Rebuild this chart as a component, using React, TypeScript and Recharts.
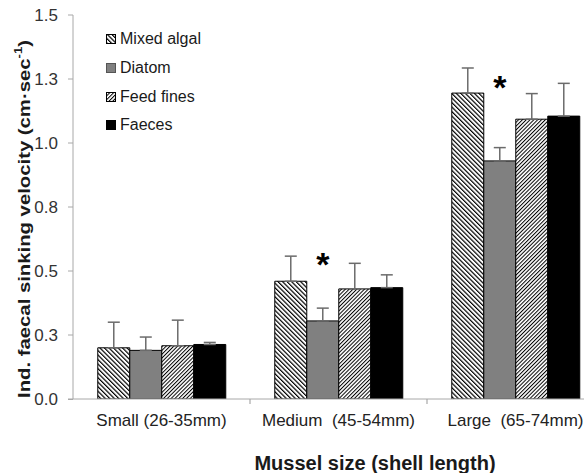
import { Bar, BarChart, ErrorBar, LabelList, Legend, XAxis, YAxis } from "recharts"

const categories = ["Small (26-35mm)", "Medium\u00a0 (45-54mm)", "Large\u00a0 (65-74mm)"]

const seriesNames = ["Mixed algal", "Diatom", "Feed fines", "Faeces"]

const mixedAlgal = [0.2, 0.46, 1.195]
const diatom = [0.19, 0.305, 0.93]
const feedFines = [0.208, 0.43, 1.093]
const faeces = [0.213, 0.435, 1.105]

const mixedAlgalErr = [0.1, 0.098, 0.098]
const diatomErr = [0.052, 0.05, 0.052]
const feedFinesErr = [0.1, 0.1, 0.1]
const faecesErr = [0.008, 0.05, 0.128]

// significance marks above the diatom bars
const marks = ["", "*", "*"]
const markAt = [0, 0.545, 1.24]

const yTicks = [0, 0.25, 0.5, 0.75, 1, 1.25, 1.5]
const yTickLabels = ["0.0", "0.3", "0.5", "0.8", "1.0", "1.3", "1.5"]

const data = categories.map((name, i) => ({
  name,
  mixed: mixedAlgal[i],
  diatom: diatom[i],
  feed: feedFines[i],
  faeces: faeces[i],
  mixedErr: [0, mixedAlgalErr[i]],
  diatomErr: [0, diatomErr[i]],
  feedErr: [0, feedFinesErr[i]],
  faecesErr: [0, faecesErr[i]],
  mark: marks[i],
}))

const font = "'Liberation Sans', Arial, sans-serif"
const axisGray = "#a8a8a8"
const errGray = "#6b6b6b"
const TICK_MARGIN = 15

function Patterns() {
  return (
    <svg width={0} height={0} style={{ position: "absolute" }}>
      <defs>
        <pattern id="mixedPat" patternUnits="userSpaceOnUse" width={3.2} height={3.2} patternTransform="rotate(-45)">
          <rect width={3.2} height={3.2} fill="#fff" />
          <line x1={0.6} y1={0} x2={0.6} y2={3.2} stroke="#000" strokeWidth={1.2} />
        </pattern>
        <pattern id="feedPat" patternUnits="userSpaceOnUse" width={2.7} height={2.7} patternTransform="rotate(45)">
          <rect width={2.7} height={2.7} fill="#fff" />
          <line x1={0.5} y1={0} x2={0.5} y2={2.7} stroke="#000" strokeWidth={1} />
        </pattern>
      </defs>
    </svg>
  )
}

function LegendBox(props: any) {
  const items = [...(props.payload || [])].sort(
    (a: any, b: any) => seriesNames.indexOf(a.value) - seriesNames.indexOf(b.value)
  )
  return (
    <div style={{ fontFamily: font, fontSize: 16, color: "#1a1a1a" }}>
      {items.map((p: any) => (
        <div key={p.value} style={{ display: "flex", alignItems: "center", height: 28.7 }}>
          <svg width={10} height={10} style={{ marginRight: 4 }}>
            <rect x={0.5} y={0.5} width={9} height={9} fill={p.color} stroke={p.value === "Diatom" ? "#555" : "#000"} />
          </svg>
          <span>{p.value}</span>
        </div>
      ))}
    </div>
  )
}

function CategoryTick(props: any) {
  const { x, y, payload, width, visibleTicksCount } = props
  const half = payload.offset || (width && visibleTicksCount ? width / visibleTicksCount / 2 : 0)
  const edge = x + half
  const axisY = y - TICK_MARGIN
  return (
    <g>
      <line x1={edge} y1={axisY} x2={edge} y2={axisY + 5} stroke={axisGray} strokeWidth={1.2} />
      <text x={x} y={y} dy="0.71em" textAnchor="middle" fontFamily={font} fontSize={17} fill="#222">
        {payload.value}
      </text>
    </g>
  )
}

function Star(props: any) {
  const { x, y, width, height, value, index } = props
  if (!value) return null
  const perUnit = height / diatom[index]
  const cy = y + height - markAt[index] * perUnit
  return (
    <text x={x + width / 2} y={cy + 17} textAnchor="middle" fontFamily={font} fontSize={34} fontWeight="bold" fill="#000">
      {value}
    </text>
  )
}

export default function App() {
  return (
    <div style={{ position: "absolute", left: 0, top: 0, width: 584, height: 473, overflow: "hidden", background: "#fff" }}>
      <Patterns />
      <BarChart
        width={612}
        height={473}
        data={data}
        margin={{ top: 15, right: 8, bottom: 0, left: 0 }}
        barCategoryGap="14%"
        barGap={0}
      >
        <XAxis
          dataKey="name"
          height={74}
          tickLine={false}
          tickSize={0}
          tickMargin={TICK_MARGIN}
          axisLine={{ stroke: axisGray }}
          tick={<CategoryTick />}
          interval={0}
        />
        <YAxis
          width={73}
          domain={[0, 1.5]}
          ticks={yTicks}
          tickFormatter={(v: number) => yTickLabels[yTicks.indexOf(v)]}
          tickSize={5}
          tickMargin={10}
          axisLine={{ stroke: axisGray }}
          tickLine={{ stroke: axisGray }}
          tick={{ fontSize: 17, fill: "#333", fontFamily: font }}
          allowDataOverflow
        />
        <Legend
          layout="vertical"
          align="center"
          verticalAlign="middle"
          wrapperStyle={{ left: 106, top: 25, width: 140, height: 120 }}
          content={<LegendBox />}
        />
        <Bar dataKey="mixed" name="Mixed algal" fill="url(#mixedPat)" stroke="#000" strokeWidth={1} isAnimationActive={false}>
          <ErrorBar dataKey="mixedErr" width={6} stroke={errGray} strokeWidth={1.5} />
        </Bar>
        <Bar dataKey="diatom" name="Diatom" fill="#808080" stroke="#000" strokeWidth={1} isAnimationActive={false}>
          <ErrorBar dataKey="diatomErr" width={6} stroke={errGray} strokeWidth={1.5} />
          <LabelList dataKey="mark" content={<Star />} />
        </Bar>
        <Bar dataKey="feed" name="Feed fines" fill="url(#feedPat)" stroke="#000" strokeWidth={1} isAnimationActive={false}>
          <ErrorBar dataKey="feedErr" width={6} stroke={errGray} strokeWidth={1.5} />
        </Bar>
        <Bar dataKey="faeces" name="Faeces" fill="#000" stroke="#000" strokeWidth={1} isAnimationActive={false}>
          <ErrorBar dataKey="faecesErr" width={6} stroke={errGray} strokeWidth={1.5} />
        </Bar>
      </BarChart>
      <svg width={584} height={473} style={{ position: "absolute", left: 0, top: 0, pointerEvents: "none" }}>
        <line x1={68} y1={399.5} x2={73} y2={399.5} stroke={axisGray} />
        <text
          transform="translate(24,219) rotate(-90)"
          textAnchor="middle"
          dominantBaseline="central"
          fontFamily={font}
          fontSize={17}
          fontWeight="bold"
          fill="#1a1a1a"
          textLength={358}
          lengthAdjust="spacingAndGlyphs"
        >
          Ind. faecal sinking velocity (cm·sec
          <tspan fontSize={11} dy={-6}>-1</tspan>
          <tspan dy={6}>)</tspan>
        </text>
        <text x={375} y={470} textAnchor="middle" fontFamily={font} fontSize={20} fontWeight="bold" fill="#1a1a1a">
          Mussel size (shell length)
        </text>
      </svg>
    </div>
  )
}
